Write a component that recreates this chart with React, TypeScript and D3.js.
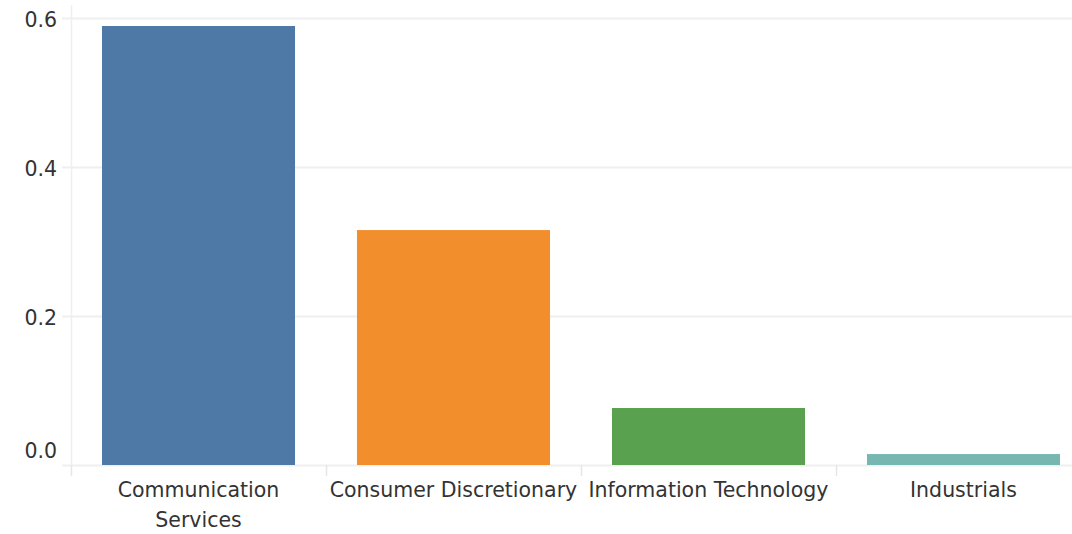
import React from "react";
import * as d3 from "d3";

const categories = ["Communication Services", "Consumer Discretionary", "Information Technology", "Industrials"];
const labelLines = [["Communication", "Services"], ["Consumer Discretionary"], ["Information Technology"], ["Industrials"]];
const values = [0.5886, 0.315, 0.0764, 0.0147];
const colors = ["#4e79a7", "#f28e2b", "#59a14f", "#76b7b2"];
const yTicks = [0, 0.2, 0.4, 0.6];

export default function App() {
  const W = 1072, H = 534;
  const x0 = 71, x1 = 1091, yBase = 465;
  const x = d3.scaleBand<string>().domain(categories).range([x0, x1]).paddingInner(0.243).paddingOuter(0.1215);
  const y = d3.scaleLinear().domain([0, 0.6]).range([yBase, 17.5]);
  const font = "'DejaVu Sans', sans-serif";
  const band = (x1 - x0) / categories.length;
  return (
    <div style={{ position: "absolute", left: 0, top: 0 }}>
      <svg width={W} height={H} style={{ display: "block", overflow: "visible" }}>
        <rect width={W} height={H} fill="#fff" />
        {yTicks.map((t) => (
          <line key={"g" + t} x1={62} x2={W} y1={Math.round(y(t)) + 0.5} y2={Math.round(y(t)) + 0.5} stroke="#efefef" strokeWidth={2} />
        ))}
        <line x1={71.5} x2={71.5} y1={5} y2={yBase} stroke="#efefef" strokeWidth={1.5} />
        {categories.map((c, i) => (
          <line key={"s" + i} x1={x0 + band * i + 0.5} x2={x0 + band * i + 0.5} y1={yBase} y2={476} stroke="#e6e6e6" strokeWidth={1.5} />
        ))}
        {categories.map((c, i) => (
          <rect key={c} x={x(c)} width={x.bandwidth()} y={y(values[i])} height={yBase - y(values[i])} fill={colors[i]} />
        ))}
        {yTicks.map((t) => (
          <text key={"t" + t} x={57} y={t === 0 ? 458 : y(t) + 9.5} textAnchor="end" fontFamily={font} fontSize={20.5} fill="#333">
            {d3.format(".1f")(t)}
          </text>
        ))}
        {categories.map((c, i) => (
          <text key={"l" + c} textAnchor="middle" fontFamily={font} fontSize={20.5} fill="#333">
            {labelLines[i].map((ln, j) => (
              <tspan key={j} x={(x(c) as number) + x.bandwidth() / 2} y={497 + j * 30}>{ln}</tspan>
            ))}
          </text>
        ))}
      </svg>
    </div>
  );
}
